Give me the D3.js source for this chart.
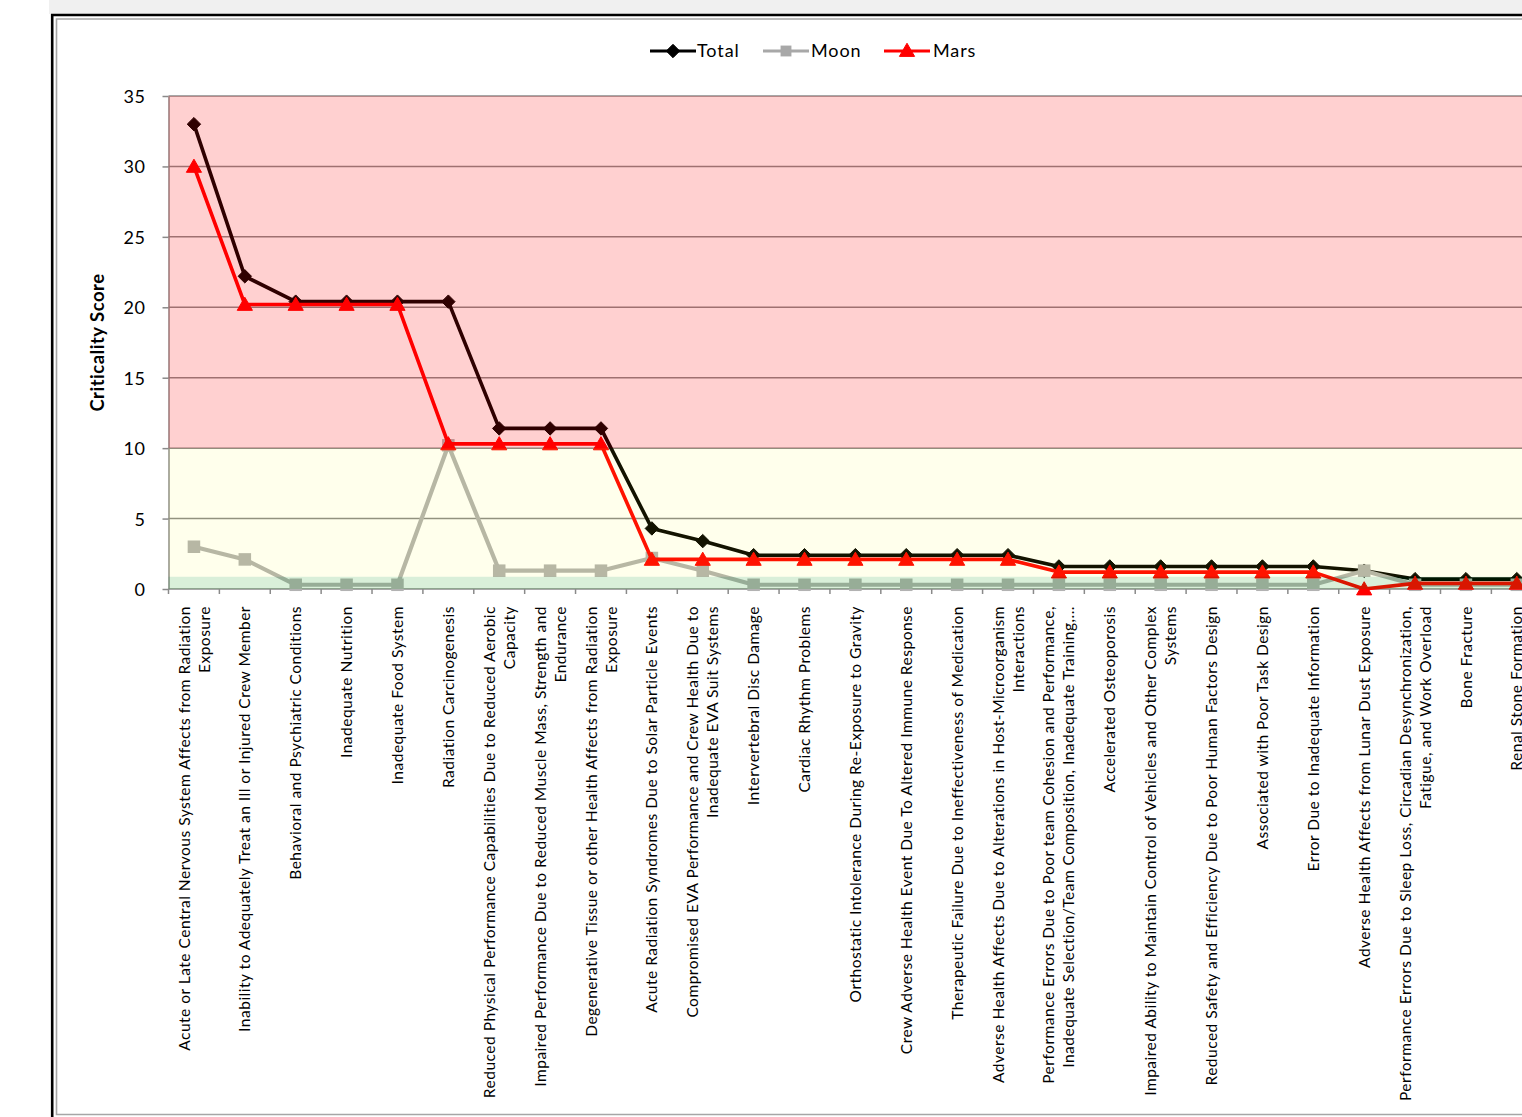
<!DOCTYPE html>
<html>
<head>
<meta charset="utf-8">
<script src="https://cdn.jsdelivr.net/npm/d3@7"></script>
<style>
  html, body { margin: 0; padding: 0; background: #ffffff; overflow: hidden; }
  svg { display: block; }
  text { font-family: Lato, "Open Sans", sans-serif; fill: #000; }
</style>
</head>
<body>
<svg id="chart" width="1522" height="1117"></svg>
<script>
// ---------------- data ----------------
const categories = [
  "Acute or Late Central Nervous System Affects from Radiation\nExposure",
  "Inability to Adequately Treat an Ill or Injured Crew Member",
  "Behavioral and Psychiatric Conditions",
  "Inadequate Nutrition",
  "Inadequate Food System",
  "Radiation Carcinogenesis",
  "Reduced Physical Performance Capabilities Due to Reduced Aerobic\nCapacity",
  "Impaired Performance Due to Reduced Muscle Mass, Strength and\nEndurance",
  "Degenerative Tissue or other Health Affects from Radiation\nExposure",
  "Acute Radiation Syndromes Due to Solar Particle Events",
  "Compromised EVA Performance and Crew Health Due to\nInadequate EVA Suit Systems",
  "Intervertebral Disc Damage",
  "Cardiac Rhythm Problems",
  "Orthostatic Intolerance During Re-Exposure to Gravity",
  "Crew Adverse Health Event Due To Altered Immune Response",
  "Therapeutic Failure Due to Ineffectiveness of Medication",
  "Adverse Health Affects Due to Alterations in Host-Microorganism\nInteractions",
  "Performance Errors Due to Poor team Cohesion and Performance,\nInadequate Selection/Team Composition, Inadequate Training,...",
  "Accelerated Osteoporosis",
  "Impaired Ability to Maintain Control of Vehicles and Other Complex\nSystems",
  "Reduced Safety and Efficiency Due to Poor Human Factors Design",
  "Associated with Poor Task Design",
  "Error Due to Inadequate Information",
  "Adverse Health Affects from Lunar Dust Exposure",
  "Performance Errors Due to Sleep Loss, Circadian Desynchronization,\nFatigue, and Work Overload",
  "Bone Fracture",
  "Renal Stone Formation"
];
const seriesNames = ["Total", "Moon", "Mars"];
const totalValues = [33, 22.2, 20.4, 20.4, 20.4, 20.4, 11.4, 11.4, 11.4, 4.3, 3.4,
  2.4, 2.4, 2.4, 2.4, 2.4, 2.4, 1.6, 1.6, 1.6, 1.6, 1.6, 1.6, 1.3, 0.7, 0.7, 0.7];
const moonValues = [3.0, 2.1, 0.3, 0.3, 0.3, 10.2, 1.3, 1.3, 1.3, 2.2, 1.3,
  0.3, 0.3, 0.3, 0.3, 0.3, 0.3, 0.3, 0.3, 0.3, 0.3, 0.3, 0.3, 1.3, 0.3, 0.3, 0.3];
const marsValues = [30, 20.2, 20.2, 20.2, 20.2, 10.3, 10.3, 10.3, 10.3, 2.1, 2.1,
  2.1, 2.1, 2.1, 2.1, 2.1, 2.1, 1.2, 1.2, 1.2, 1.2, 1.2, 1.2, 0, 0.4, 0.4, 0.4];
const yTicks = [0, 5, 10, 15, 20, 25, 30, 35];
const zoneLow = [0, 0.87];     // green zone
const zoneMid = [0.87, 10];    // yellow zone
const zoneHigh = [10, 35];     // red zone
const yTitle = "Criticality Score";

// ---------------- layout ----------------
const svg = d3.select("#chart");
const pLeft = 168.5, pTop = 96, pBottom = 589;
const step = 50.88;
const pRight = pLeft + step * categories.length;

const x = d3.scaleBand().domain(d3.range(categories.length)).range([pLeft, pRight]).paddingInner(0).paddingOuter(0);
const xc = i => x(i) + x.bandwidth() / 2;
const y = d3.scaleLinear().domain([0, 35]).range([pBottom, pTop]);

// frame
svg.append("rect").attr("x", 49).attr("y", 0).attr("width", 1522 - 49).attr("height", 14).attr("fill", "#f0f0f0");
svg.append("line").attr("x1", 51).attr("x2", 1522).attr("y1", 15).attr("y2", 15).attr("stroke", "#000").attr("stroke-width", 2.6);
svg.append("line").attr("x1", 52.2).attr("x2", 52.2).attr("y1", 14).attr("y2", 1117).attr("stroke", "#000").attr("stroke-width", 2.6);
svg.append("path").attr("d", `M1522,19 H56.5 V1114.5 H1522`).attr("fill", "none").attr("stroke", "#a6a6a6").attr("stroke-width", 1.6);

// plot background
svg.append("rect").attr("x", pLeft).attr("y", pTop).attr("width", pRight - pLeft).attr("height", pBottom - pTop).attr("fill", "#ffffff");

// gridlines
svg.append("g").selectAll("line").data(yTicks.filter(d => d > 0)).join("line")
  .attr("x1", pLeft).attr("x2", pRight)
  .attr("y1", d => y(d)).attr("y2", d => y(d))
  .attr("stroke", "#8a8a8a").attr("stroke-width", 1.5);

// y axis
const yAxis = d3.axisLeft(y).tickValues(yTicks).tickSize(6).tickPadding(17).tickSizeOuter(0);
const gy = svg.append("g").attr("transform", `translate(${pLeft},0)`).call(yAxis);
gy.select(".domain").attr("stroke", "#8a8a8a").attr("stroke-width", 1.5);
gy.selectAll(".tick line").attr("stroke", "#8a8a8a").attr("stroke-width", 1.5);
gy.selectAll(".tick text").style("font-family", "Lato, 'Open Sans', sans-serif").style("font-size", "18px")
  .style("letter-spacing", "0.5px").attr("fill", "#000").attr("dy", "0.36em");

// x axis (category boundary ticks)
svg.append("line").attr("x1", pLeft).attr("x2", pRight).attr("y1", pBottom).attr("y2", pBottom)
  .attr("stroke", "#8a8a8a").attr("stroke-width", 1.5);
svg.append("g").selectAll("line").data(d3.range(categories.length + 1)).join("line")
  .attr("x1", i => pLeft + i * x.step()).attr("x2", i => pLeft + i * x.step())
  .attr("y1", pBottom).attr("y2", pBottom + 5)
  .attr("stroke", "#8a8a8a").attr("stroke-width", 1.5);

// series
const line = d3.line().x((d, i) => xc(i)).y(d => y(d));
const series = [
  { name: "Total", values: totalValues, color: "#000000", width: 3.6, symbol: d3.symbolDiamond2, size: 115 },
  { name: "Moon",  values: moonValues,  color: "#b2b2b2", width: 4.2, symbol: d3.symbolSquare2, size: 200 },
  { name: "Mars",  values: marsValues,  color: "#ff0000", width: 3.6, symbol: d3.symbolTriangle2, size: 165 }
];
function markerPath(s) {
  return d3.symbol().type(s.symbol).size(s.size)();
}
function drawMarker(g, s, cx, cy) {
  const p = g.append("path").attr("d", markerPath(s)).attr("transform", `translate(${cx},${cy})`);
  if (s.name === "Moon") p.attr("fill", s.color).attr("stroke", "none");
  else p.attr("fill", s.color).attr("stroke", s.color).attr("stroke-width", 1).attr("stroke-linejoin", "miter");
  return p;
}
const gSeries = svg.append("g");
series.forEach(s => {
  const g = gSeries.append("g");
  g.append("path").datum(s.values).attr("d", line).attr("fill", "none")
    .attr("stroke", s.color).attr("stroke-width", s.width).attr("stroke-linejoin", "round");
  s.values.forEach((v, i) => {
    const off = s.name === "Mars" ? 1.5 : 0;
    drawMarker(g, s, xc(i), y(v) + off);
  });
});

// semi-transparent zones over the marks
const zones = [
  { r: zoneHigh, fill: "rgba(255,0,0,0.185)" },
  { r: zoneMid, fill: "rgba(255,255,0,0.075)" },
  { r: zoneLow, fill: "rgba(0,150,0,0.15)" }
];
svg.append("g").selectAll("rect").data(zones).join("rect")
  .attr("x", pLeft).attr("width", pRight - pLeft)
  .attr("y", d => y(d.r[1])).attr("height", d => y(d.r[0]) - y(d.r[1]))
  .attr("fill", d => d.fill);

// y title
svg.append("text").attr("transform", `translate(104,${(pTop + pBottom) / 2}) rotate(-90)`)
  .attr("text-anchor", "middle").style("font-size", "18.5px").style("font-weight", "bold")
  .style("letter-spacing", "0.5px").text(yTitle);

// category labels
const lblFont = 15.5, lineH = 20;
const gl = svg.append("g");
categories.forEach((c, i) => {
  const lines = c.split("\n");
  const n = lines.length;
  const t = gl.append("text")
    .attr("transform", `translate(${xc(i)},606) rotate(-90)`)
    .attr("text-anchor", "end")
    .style("font-size", lblFont + "px")
    .style("letter-spacing", "0.5px");
  lines.forEach((ln, j) => {
    t.append("tspan").attr("x", 0).attr("y", (j - (n - 1) / 2) * lineH).attr("dy", "0.36em").text(ln);
  });
});

// legend
const legendItems = [
  { s: series[0], x0: 650, tx: 697 },
  { s: series[1], x0: 763, tx: 811 },
  { s: series[2], x0: 884, tx: 933 }
];
const lg = svg.append("g");
legendItems.forEach(it => {
  const ly = 51;
  const col = it.s.name === "Moon" ? "#a8a8a8" : it.s.color;
  lg.append("line").attr("x1", it.x0).attr("x2", it.x0 + 46).attr("y1", ly).attr("y2", ly)
    .attr("stroke", col).attr("stroke-width", 3.2);
  const p = drawMarker(lg, it.s, it.x0 + 23, ly + (it.s.name === "Mars" ? 1 : 0));
  p.attr("fill", col).attr("stroke", it.s.name === "Moon" ? "none" : col);
  if (it.s.name === "Moon") p.attr("d", d3.symbol().type(d3.symbolSquare2).size(150)());
  lg.append("text").attr("x", it.tx).attr("y", ly).attr("dy", "0.35em")
    .style("font-size", "18px").style("letter-spacing", "0.9px").text(it.s.name);
});
</script>
</body>
</html>
